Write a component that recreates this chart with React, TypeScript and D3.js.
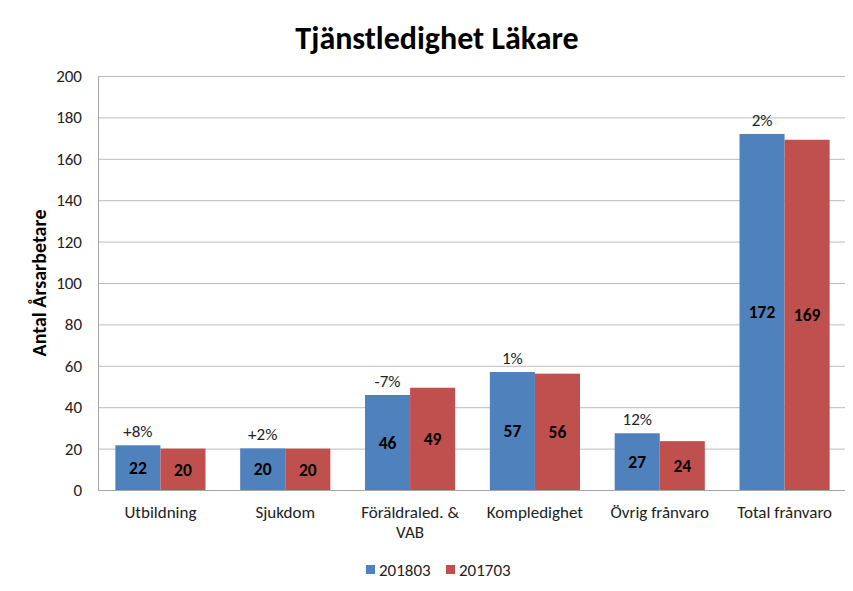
import * as d3 from "d3";

const categories = ["Utbildning", "Sjukdom", "Föräldraled. & VAB", "Kompledighet", "Övrig frånvaro", "Total frånvaro"];
const series = ["201803", "201703"];
const values2018 = [21.6, 20.1, 45.9, 57, 27.4, 172];
const values2017 = [20, 20, 49.4, 56.2, 23.6, 169.2];
const changeLabels = ["+8%", "+2%", "-7%", "1%", "12%", "2%"];
const yTicks = [0, 20, 40, 60, 80, 100, 120, 140, 160, 180, 200];

const colors = ["#4F81BD", "#C0504D"];
const font = "Calibri, Carlito, 'Liberation Sans', Arial, sans-serif";

const App = () => {
  const width = 853;
  const height = 591;
  const margin = { top: 76, right: 6, bottom: 101, left: 98 };
  const innerW = width - margin.left - margin.right;
  const innerH = height - margin.top - margin.bottom;

  const x = d3.scaleBand<string>().domain(categories).range([0, innerW]).paddingInner(0.278).paddingOuter(0.139);
  const xSub = d3.scaleBand<string>().domain(series).range([0, x.bandwidth()]);
  const y = d3.scaleLinear().domain([0, 200]).range([innerH, 0]);
  const fmt = d3.format(".0f");

  const rows = categories.map((c, i) => ({ c, vals: [values2018[i], values2017[i]], change: changeLabels[i] }));

  return (
    <svg width={width} height={height} style={{ display: "block", margin: "-8px", fontFamily: font }}>
      <rect x={0} y={0} width={width} height={height} fill="#fff" />
      <rect x={4.5} y={3.5} width={width + 20} height={height + 20} fill="none" stroke="#8c8c8c" strokeWidth={1.5} />

      <text x={437} y={49} textAnchor="middle" fontSize={32} fontWeight="bold" fill="#000">
        Tjänstledighet Läkare
      </text>

      <text
        transform={`translate(46, ${margin.top + innerH / 2}) rotate(-90)`}
        textAnchor="middle"
        fontSize={20}
        fontWeight="bold"
        fill="#000"
      >
        Antal Årsarbetare
      </text>

      <g transform={`translate(${margin.left}, ${margin.top})`}>
        {yTicks.map((t) => (
          <g key={t}>
            <line x1={0} x2={innerW} y1={y(t) + 0.5} y2={y(t) + 0.5} stroke="#bcbcbc" strokeWidth={1} />
            <text x={-16} y={y(t)} dy="0.35em" textAnchor="end" fontSize={17} fill="#222">
              {t}
            </text>
          </g>
        ))}
        <line x1={0.5} x2={0.5} y1={0} y2={innerH} stroke="#a6a6a6" />

        {rows.map((r) => (
          <g key={r.c} transform={`translate(${x(r.c)}, 0)`}>
            {r.vals.map((v, j) => (
              <g key={series[j]}>
                <rect
                  x={xSub(series[j])}
                  y={y(v)}
                  width={xSub.bandwidth()}
                  height={innerH - y(v)}
                  fill={colors[j]}
                />
                <text
                  x={(xSub(series[j]) as number) + xSub.bandwidth() / 2}
                  y={(y(v) + innerH) / 2}
                  dy="0.36em"
                  textAnchor="middle"
                  fontSize={17.5}
                  fontWeight="bold"
                  fill="#000"
                >
                  {fmt(v)}
                </text>
              </g>
            ))}
            <text
              x={(xSub(series[0]) as number) + xSub.bandwidth() / 2}
              y={y(r.vals[0]) - 8}
              textAnchor="middle"
              fontSize={17}
              fill="#222"
            >
              {r.change}
            </text>
          </g>
        ))}

        <line x1={0} x2={innerW} y1={innerH + 0.5} y2={innerH + 0.5} stroke="#a6a6a6" />

        {rows.map((r) => {
          const cx = (x(r.c) as number) + x.bandwidth() / 2;
          const lines = r.c === "Föräldraled. & VAB" ? ["Föräldraled. &", "VAB"] : [r.c];
          return (
            <text key={r.c} x={cx} y={innerH + 28} textAnchor="middle" fontSize={17} fill="#222">
              {lines.map((l, k) => (
                <tspan key={k} x={cx} dy={k === 0 ? 0 : 20}>
                  {l}
                </tspan>
              ))}
            </text>
          );
        })}
      </g>

      <g transform="translate(366, 565)">
        {series.map((s, i) => (
          <g key={s} transform={`translate(${i * 80}, 0)`}>
            <rect x={0} y={0} width={9} height={9} fill={colors[i]} />
            <text x={13} y={5} dy="0.36em" fontSize={17} fill="#222">
              {s}
            </text>
          </g>
        ))}
      </g>
    </svg>
  );
};

export default App;
